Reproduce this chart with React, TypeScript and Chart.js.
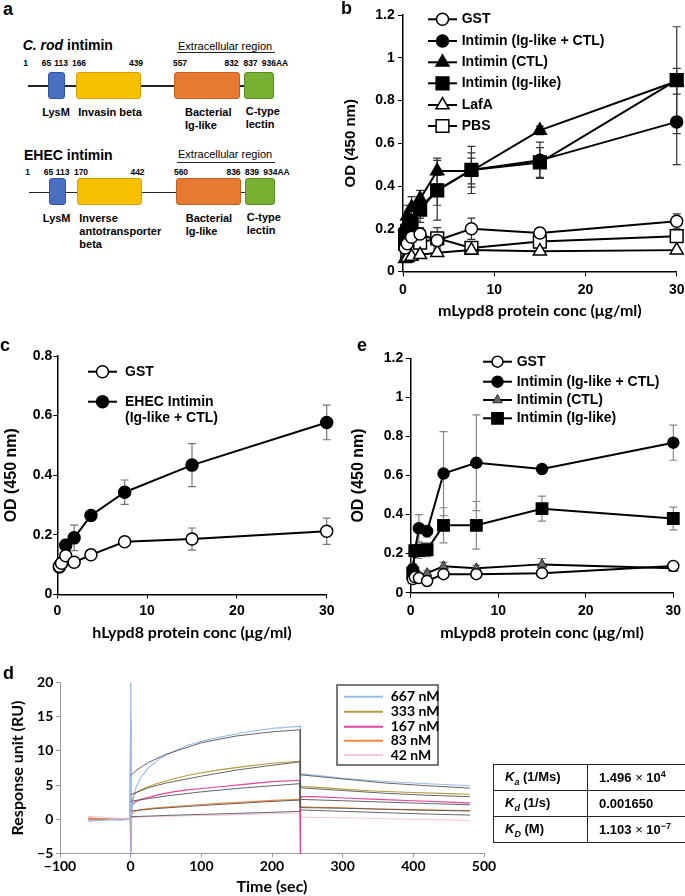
import React, { useEffect, useRef } from "react";
import { Chart, registerables } from "chart.js";
import { drawPoint } from "chart.js/helpers";

Chart.register(...registerables);

const ARIAL = "'Liberation Sans', Arial, Helvetica, sans-serif";
const CAL = "Lato, 'Open Sans', sans-serif";

// ---------------- Panel a data ----------------
const crodNumbers = ["1", "65", "113", "166", "439", "557", "832", "837", "936AA"];
const ehecNumbers = ["1", "65", "113", "170", "442", "560", "836", "839", "934AA"];
const crodNumX = [25.5, 46.5, 61, 79, 136, 180, 231.5, 250.5, 275];
const ehecNumX = [27.5, 48.5, 62.5, 81, 137.5, 181, 233.5, 252, 276.5];

// ---------------- Panel b data ----------------
const concentrations = [0.234, 0.469, 0.938, 1.875, 3.75, 7.5, 15, 30];
const bGST = [0.11, 0.13, 0.16, 0.175, 0.145, 0.2, 0.18, 0.235];
const bGSTErr = [0.02, 0.02, 0.03, 0.03, 0.03, 0.05, 0.02, 0.035];
const bIgCTL = [0.17, 0.2, 0.24, 0.3, 0.38, 0.475, 0.52, 0.7];
const bIgCTLErr = [0.03, 0.04, 0.05, 0.05, 0.07, 0.11, 0.085, 0.2];
const bCTL = [0.21, 0.26, 0.3, 0.34, 0.47, 0.47, 0.66, 0.89];
const bCTLErr = [0.03, 0.05, 0.05, 0.04, 0.06, 0.06, 0.02, 0.06];
const bIg = [0.16, 0.19, 0.22, 0.29, 0.38, 0.475, 0.51, 0.895];
const bIgErr = [0.03, 0.04, 0.04, 0.06, 0.14, 0.08, 0.07, 0.25];
const bLafA = [0.06, 0.065, 0.07, 0.078, 0.088, 0.1, 0.095, 0.1];
const bLafAErr = [0.01, 0.01, 0.01, 0.01, 0.01, 0.01, 0.01, 0.01];
const bPBS = [0.13, 0.075, 0.1, 0.135, 0.155, 0.11, 0.14, 0.165];
const bPBSErr = [0.02, 0.03, 0.02, 0.02, 0.05, 0.02, 0.02, 0.02];

// ---------------- Panel c data ----------------
const cGST = [0.095, 0.105, 0.13, 0.108, 0.133, 0.177, 0.186, 0.212];
const cGSTErr = [0.01, 0.01, 0.015, 0.01, 0.012, 0.01, 0.037, 0.044];
const cEHEC = [0.092, 0.105, 0.165, 0.19, 0.265, 0.343, 0.434, 0.577];
const cEHECErr = [0.01, 0.01, 0.02, 0.043, 0.015, 0.041, 0.072, 0.058];

// ---------------- Panel e data ----------------
const eGST = [0.07, 0.08, 0.075, 0.06, 0.095, 0.095, 0.1, 0.137];
const eGSTErr = [0.01, 0.01, 0.01, 0.01, 0.01, 0.01, 0.01, 0.01];
const eIgCTL = [0.12, 0.21, 0.33, 0.315, 0.61, 0.665, 0.633, 0.768];
const eIgCTLErr = [0.03, 0.03, 0.07, 0.03, 0.215, 0.245, 0.02, 0.09];
const eCTL = [0.06, 0.08, 0.09, 0.1, 0.135, 0.125, 0.145, 0.125];
const eCTLErr = [0.01, 0.01, 0.015, 0.015, 0.02, 0.015, 0.03, 0.015];
const eIg = [0.1, 0.215, 0.215, 0.22, 0.345, 0.345, 0.43, 0.38];
const eIgErr = [0.02, 0.03, 0.04, 0.035, 0.09, 0.122, 0.064, 0.058];

// ---------------- Panel d data ----------------
const sprLabels = ["667 nM", "333 nM", "167 nM", "83 nM", "42 nM"];
const dataTimes = [-60, -45, -30, -15, -1, 0, 0.4, 1.5, 4, 8, 15, 25, 40, 60, 80, 100, 130, 160, 200, 239, 240, 240.4, 242, 260, 300, 350, 400, 450, 480];
const r667 = [-0.3, -0.2, -0.1, -0.1, 0, 20, -5, 1.2, 3.3, 4.8, 6.2, 7.5, 8.8, 9.9, 10.8, 11.4, 12.1, 12.7, 13.3, 13.6, 13.7, 6.2, 6.6, 6.45, 6.0, 5.6, 5.3, 5.05, 4.9];
const r333 = [0.1, 0.05, 0, -0.05, 0, 0, -1.5, 2.6, 3.5, 3.9, 4.3, 4.8, 5.3, 5.9, 6.4, 6.8, 7.3, 7.7, 8.2, 8.5, 8.5, 5.0, 4.8, 4.7, 4.4, 4.1, 3.9, 3.75, 3.65];
const r167 = [-0.1, -0.1, 0, 0, 0, 14.5, -5, 1.8, 2.3, 2.6, 2.9, 3.2, 3.6, 4.0, 4.3, 4.5, 4.8, 5.1, 5.5, 5.7, -5, 3.0, 3.3, 3.3, 3.1, 2.9, 2.7, 2.5, 2.35];
const r83 = [0.2, 0.1, 0, -0.1, 0, -3, 0.5, 0.8, 1.0, 1.2, 1.4, 1.55, 1.7, 1.85, 2.0, 2.15, 2.35, 2.5, 2.75, 2.9, 2.9, 1.8, 1.8, 1.75, 1.65, 1.5, 1.4, 1.3, 1.25];
const r42 = [0.4, 0.35, 0.2, 0.1, 0, 0, 0.2, 0.2, 0.25, 0.3, 0.3, 0.35, 0.4, 0.45, 0.5, 0.55, 0.6, 0.7, 0.8, 0.9, 0.9, 0.3, 0.3, 0.25, 0.2, 0.1, 0.0, -0.1, -0.2];
const fitTimes = [0, 10, 25, 50, 100, 150, 200, 240, 240, 300, 360, 420, 480];
const f667 = [6.4, 7.3, 8.3, 9.5, 11.2, 12.2, 12.8, 13.1, 6.5, 5.9, 5.3, 4.9, 4.55];
const f333 = [3.6, 4.0, 4.6, 5.3, 6.3, 7.2, 7.9, 8.4, 4.6, 4.2, 3.8, 3.5, 3.3];
const f167 = [2.6, 2.8, 3.0, 3.4, 4.0, 4.5, 4.9, 5.2, 2.9, 2.7, 2.5, 2.3, 2.1];
const f83 = [1.2, 1.3, 1.45, 1.65, 2.0, 2.3, 2.6, 2.8, 1.7, 1.6, 1.45, 1.3, 1.2];
const f42 = [0.35, 0.4, 0.45, 0.55, 0.7, 0.85, 1.0, 1.15, 1.35, 1.15, 0.95, 0.75, 0.6];

// ---------------- Plugins ----------------
const errorBarPlugin = {
  id: "errorBars",
  beforeDatasetsDraw(chart: any) {
    const ctx = chart.ctx;
    const ys = chart.scales.y;
    chart.data.datasets.forEach((ds: any, di: number) => {
      if (!ds.errors) return;
      const meta = chart.getDatasetMeta(di);
      ctx.save();
      ctx.strokeStyle = ds.errorColor || "#555";
      ctx.lineWidth = 1.2;
      const cap = ds.errorCap || 4;
      ds.data.forEach((p: any, i: number) => {
        const e = ds.errors[i];
        if (!e) return;
        const px = meta.data[i].x;
        const t = ys.getPixelForValue(p.y + e);
        const b = ys.getPixelForValue(p.y - e);
        ctx.beginPath();
        ctx.moveTo(px, t); ctx.lineTo(px, b);
        ctx.moveTo(px - cap, t); ctx.lineTo(px + cap, t);
        ctx.moveTo(px - cap, b); ctx.lineTo(px + cap, b);
        ctx.stroke();
      });
      ctx.restore();
    });
  },
};

function makeLegend(cfg: any) {
  return {
    id: "panelLegend",
    afterDraw(chart: any) {
      const ctx = chart.ctx;
      ctx.save();
      if (cfg.box) {
        ctx.strokeStyle = cfg.box.color;
        ctx.lineWidth = cfg.box.width;
        ctx.strokeRect(cfg.box.x, cfg.box.y, cfg.box.w, cfg.box.h);
      }
      cfg.items.forEach((it: any) => {
        const ds: any = chart.data.datasets[it.ds];
        ctx.strokeStyle = ds.borderColor;
        ctx.lineWidth = cfg.lineWidth || ds.borderWidth;
        ctx.beginPath();
        ctx.moveTo(cfg.x0, it.y);
        ctx.lineTo(cfg.x1, it.y);
        ctx.stroke();
        if (cfg.marker) {
          ctx.fillStyle = ds.pointBackgroundColor;
          ctx.strokeStyle = ds.pointBorderColor;
          ctx.lineWidth = ds.pointBorderWidth;
          drawPoint(ctx, { pointStyle: ds.pointStyle, radius: ds.pointRadius, rotation: 0, borderWidth: ds.pointBorderWidth } as any, (cfg.x0 + cfg.x1) / 2, it.y);
        }
        ctx.fillStyle = "#000";
        ctx.font = cfg.font;
        ctx.textBaseline = "middle";
        ctx.textAlign = "left";
        it.lines.forEach((t: string, k: number) => ctx.fillText(t, cfg.textX, it.y + k * (cfg.lineGap || 16)));
      });
      ctx.restore();
    },
  };
}

// ---------------- Helpers ----------------
function series(xs: number[], ys: number[], errs: number[] | null, st: any) {
  return {
    data: xs.map((x, i) => ({ x, y: ys[i] })),
    errors: errs,
    errorColor: st.errorColor,
    errorCap: st.errorCap,
    borderColor: st.line || "#000",
    borderWidth: st.lineWidth ?? 2,
    pointStyle: st.shape || "circle",
    pointRadius: st.r ?? 0,
    pointHoverRadius: st.r ?? 0,
    pointBackgroundColor: st.fill || "#000",
    pointBorderColor: st.stroke || "#000",
    pointBorderWidth: st.pw ?? 1.5,
    order: st.order ?? 0,
    clip: false,
    tension: 0,
    fill: false,
  };
}

function axis(o: any) {
  return {
    type: "linear",
    min: o.min,
    max: o.max,
    ticks: {
      stepSize: o.step,
      color: "#000",
      font: { family: o.tickFamily || ARIAL, size: o.tickSize || 14, weight: "bold" },
      padding: o.tickPad,
      autoSkip: false,
      maxRotation: 0,
      callback: o.fmt,
    },
    grid: { display: true, drawOnChartArea: false, drawTicks: true, tickLength: o.tickLen, color: o.lineColor || "#000", lineWidth: 1 },
    border: { display: true, color: o.lineColor || "#000", width: o.lineWidth || 1.5 },
    title: {
      display: true,
      text: o.title,
      color: "#000",
      font: { family: o.titleFamily || ARIAL, size: o.titleSize, weight: "bold" },
      padding: 0,
    },
    afterFit: (s: any) => {
      if (o.width != null) s.width = o.width;
      if (o.height != null) s.height = o.height;
    },
  };
}

const fmt1 = (v: any) => String(Math.round(Number(v) * 10) / 10);
const fmtMinus = (v: any) => (Number(v) < 0 ? "\u2212" + Math.abs(Number(v)) : String(v));

function baseOptions(padding: any, scales: any) {
  return {
    responsive: false,
    animation: false,
    devicePixelRatio: 1,
    events: [],
    layout: { padding },
    plugins: { legend: { display: false }, tooltip: { enabled: false }, title: { display: false } },
    scales,
  };
}

// ---------------- Chart configs ----------------
function configB() {
  const ec = "#333";
  const datasets = [
    series(concentrations, bGST, bGSTErr, { shape: "circle", r: 6, fill: "#fff", errorColor: ec }),
    series(concentrations, bIgCTL, bIgCTLErr, { shape: "circle", r: 6, fill: "#000", errorColor: ec }),
    series(concentrations, bCTL, bCTLErr, { shape: "triangle", r: 7.5, fill: "#000", errorColor: ec }),
    series(concentrations, bIg, bIgErr, { shape: "rect", r: 9, fill: "#000", errorColor: ec }),
    series(concentrations, bLafA, bLafAErr, { shape: "triangle", r: 7.5, fill: "#fff", errorColor: ec }),
    series(concentrations, bPBS, bPBSErr, { shape: "rect", r: 9, fill: "#fff", errorColor: ec }),
  ];
  const names = ["GST", "Intimin (Ig-like + CTL)", "Intimin (CTL)", "Intimin (Ig-like)", "LafA", "PBS"];
  const ys = [19.3, 41, 62.3, 83.3, 105, 126];
  return {
    type: "line",
    data: { datasets },
    options: baseOptions({ left: 2, right: 18.3, top: 15, bottom: 0 }, {
      x: axis({ min: 0, max: 30, step: 10, tickPad: 5, tickLen: 5, title: "mLypd8 protein conc (\u03bcg/ml)", titleFamily: CAL, titleSize: 16, height: 48.5 }),
      y: axis({ min: 0, max: 1.2, step: 0.2, tickPad: 3.3, tickLen: 5, title: "OD (450 nm)", titleSize: 15, width: 61, fmt: fmt1 }),
    }),
    plugins: [errorBarPlugin, makeLegend({ x0: 88, x1: 117, textX: 121.7, marker: true, font: `bold 14px ${ARIAL}`, items: names.map((n, i) => ({ ds: i, lines: [n], y: ys[i] })) })],
  };
}

function configC() {
  const ec = "#777";
  const datasets = [
    series(concentrations, cGST, cGSTErr, { shape: "circle", r: 6, fill: "#fff", errorColor: ec }),
    series(concentrations, cEHEC, cEHECErr, { shape: "circle", r: 6, fill: "#000", errorColor: ec }),
  ];
  return {
    type: "line",
    data: { datasets },
    options: baseOptions({ left: 2, right: 18.3, top: 26, bottom: 0 }, {
      x: axis({ min: 0, max: 30, step: 10, tickPad: 4, tickLen: 4, title: "hLypd8 protein conc (\u03bcg/ml)", titleFamily: CAL, titleSize: 16, height: 47.5 }),
      y: axis({ min: 0, max: 0.8, step: 0.2, tickPad: 1, tickLen: 4, title: "OD (450 nm)", titleSize: 16, width: 55.3, fmt: fmt1 }),
    }),
    plugins: [errorBarPlugin, makeLegend({ x0: 88, x1: 117, textX: 125, marker: true, lineGap: 16.6, font: `bold 14px ${ARIAL}`, items: [
      { ds: 0, lines: ["GST"], y: 41.7 },
      { ds: 1, lines: ["EHEC Intimin", "(Ig-like + CTL)"], y: 71.7 },
    ] })],
  };
}

function configE() {
  const ec = "#888";
  const datasets = [
    series(concentrations, eGST, eGSTErr, { shape: "circle", r: 5.5, fill: "#fff", errorColor: ec }),
    series(concentrations, eIgCTL, eIgCTLErr, { shape: "circle", r: 5.5, fill: "#000", errorColor: ec }),
    series(concentrations, eCTL, eCTLErr, { shape: "triangle", r: 5.5, fill: "#666", stroke: "#222", pw: 1, errorColor: ec }),
    series(concentrations, eIg, eIgErr, { shape: "rect", r: 8, fill: "#000", errorColor: ec }),
  ];
  const names = ["GST", "Intimin (Ig-like + CTL)", "Intimin (CTL)", "Intimin (Ig-like)"];
  const ys = [31.7, 51.7, 70, 88.3];
  return {
    type: "line",
    data: { datasets },
    options: baseOptions({ left: 4, right: 21.7, top: 28.3, bottom: 0 }, {
      x: axis({ min: 0, max: 30, step: 10, tickPad: 5, tickLen: 5, title: "mLypd8 protein conc (\u03bcg/ml)", titleFamily: CAL, titleSize: 16, height: 49.3 }),
      y: axis({ min: 0, max: 1.2, step: 0.2, tickPad: 2.4, tickLen: 5, title: "OD (450 nm)", titleSize: 16, width: 61.7, fmt: fmt1 }),
    }),
    plugins: [errorBarPlugin, makeLegend({ x0: 138, x1: 167, textX: 171.7, marker: true, font: `bold 14px ${ARIAL}`, items: names.map((n, i) => ({ ds: i, lines: [n], y: ys[i] })) })],
  };
}

function configD() {
  const colors = ["#9dbde6", "#b89b3c", "#e0449c", "#f0883c", "#f6c6e6"];
  const raw = [r667, r333, r167, r83, r42];
  const fits = [f667, f333, f167, f83, f42];
  const datasets: any[] = [];
  raw.forEach((vals, i) => datasets.push(series(dataTimes, vals, null, { line: colors[i], lineWidth: 1.1, r: 0, order: 1 })));
  fits.forEach((vals) => datasets.push(series(fitTimes, vals, null, { line: "#555", lineWidth: 0.9, r: 0, order: 0 })));
  const ys = [36.7, 51.7, 66.7, 80.7, 95];
  return {
    type: "line",
    data: { datasets },
    options: baseOptions({ left: 8, right: 16, top: 22.7, bottom: 0 }, {
      x: axis({ min: -100, max: 500, step: 100, tickPad: 1, tickLen: 4, tickFamily: CAL, tickSize: 14, title: "Time (sec)", titleFamily: CAL, titleSize: 16, height: 42.7, lineColor: "#999", lineWidth: 1, fmt: fmtMinus }),
      y: axis({ min: -5, max: 20, step: 5, tickPad: 2.7, tickLen: 4, tickFamily: CAL, tickSize: 14, title: "Response unit (RU)", titleFamily: CAL, titleSize: 16, width: 52, lineColor: "#999", lineWidth: 1, fmt: fmtMinus }),
    }),
    plugins: [makeLegend({ x0: 344, x1: 383, textX: 390.7, marker: false, lineWidth: 2, font: `bold 14px ${CAL}`, box: { x: 337, y: 25, w: 101, h: 80, color: "#333", width: 1.3 }, items: sprLabels.map((n, i) => ({ ds: i, lines: [n], y: ys[i] })) })],
  };
}

// ---------------- Components ----------------
function ChartCanvas({ left, top, width, height, make }: any) {
  const ref = useRef<HTMLCanvasElement>(null);
  useEffect(() => {
    const chart = new Chart(ref.current as HTMLCanvasElement, make() as any);
    return () => chart.destroy();
  }, []);
  return <canvas ref={ref} width={width} height={height} style={{ position: "absolute", left, top, width, height }} />;
}

function T({ x, y, children, size = 11, bold = true, italic = false, align = "left", family = ARIAL }: any) {
  const tx = align === "center" ? "-50%" : align === "right" ? "-100%" : "0";
  return (
    <div style={{ position: "absolute", left: x, top: y, transform: `translate(${tx}, -50%)`, fontFamily: family, fontSize: size, fontWeight: bold ? "bold" : "normal", fontStyle: italic ? "italic" : "normal", whiteSpace: "nowrap", lineHeight: 1, color: "#000" }}>
      {children}
    </div>
  );
}

function Box({ x1, x2, y1, y2, fill, stroke }: any) {
  return <div style={{ position: "absolute", left: x1, top: y1, width: x2 - x1, height: y2 - y1, background: fill, border: `1px solid ${stroke}`, borderRadius: 3, boxSizing: "border-box" }} />;
}

function HLine({ x1, x2, y, w = 1.5, color = "#222" }: any) {
  return <div style={{ position: "absolute", left: x1, top: y - w / 2, width: x2 - x1, height: w, background: color }} />;
}

const BLUE = ["#4a70c4", "#2f55a0"];
const YEL = ["#f7c000", "#d4a200"];
const ORA = ["#e57a30", "#c85f1c"];
const GRN = ["#78b032", "#5a8c22"];

function PanelA() {
  return (
    <>
      <T x={3} y={9} size={18}>a</T>
      {/* C. rod */}
      <T x={22.7} y={45} size={14}><i>C. rod</i> intimin</T>
      <T x={178} y={45.7} size={11} bold={false}>Extracellular region</T>
      <HLine x1={177} x2={275} y={52.7} />
      {crodNumbers.map((n, i) => <T key={i} x={crodNumX[i]} y={63} size={8.5} align="center">{n}</T>)}
      <HLine x1={28.3} x2={245} y={86} w={1.3} />
      <Box x1={48.3} x2={65} y1={71.7} y2={99.3} fill={BLUE[0]} stroke={BLUE[1]} />
      <Box x1={76} x2={141} y1={71.7} y2={99.3} fill={YEL[0]} stroke={YEL[1]} />
      <Box x1={174.3} x2={240} y1={71.7} y2={99.3} fill={ORA[0]} stroke={ORA[1]} />
      <Box x1={244.3} x2={274.3} y1={71.7} y2={99.3} fill={GRN[0]} stroke={GRN[1]} />
      <T x={56} y={111.7} align="center">LysM</T>
      <T x={78.3} y={111.7}>Invasin beta</T>
      <T x={185} y={111.7}>Bacterial</T>
      <T x={185} y={125}>Ig-like</T>
      <T x={245.7} y={111}>C-type</T>
      <T x={245.7} y={124.3}>lectin</T>
      {/* EHEC */}
      <T x={24} y={155} size={14}>EHEC intimin</T>
      <T x={178} y={154} size={11} bold={false}>Extracellular region</T>
      <HLine x1={177} x2={275} y={162.3} />
      {ehecNumbers.map((n, i) => <T key={i} x={ehecNumX[i]} y={172} size={8.5} align="center">{n}</T>)}
      <HLine x1={29.3} x2={245} y={192.3} w={1.3} />
      <Box x1={49} x2={65.7} y1={178.3} y2={205} fill={BLUE[0]} stroke={BLUE[1]} />
      <Box x1={76.7} x2={141.7} y1={178.3} y2={205} fill={YEL[0]} stroke={YEL[1]} />
      <Box x1={175.7} x2={240.7} y1={178.3} y2={205} fill={ORA[0]} stroke={ORA[1]} />
      <Box x1={245} x2={275} y1={178.3} y2={205} fill={GRN[0]} stroke={GRN[1]} />
      <T x={56.7} y={218.3} align="center">LysM</T>
      <T x={79.3} y={218.3}>Inverse</T>
      <T x={79.3} y={231}>antotransporter</T>
      <T x={79.3} y={244}>beta</T>
      <T x={185.7} y={218.3}>Bacterial</T>
      <T x={185.7} y={231}>Ig-like</T>
      <T x={246.7} y={217}>C-type</T>
      <T x={246.7} y={230}>lectin</T>
    </>
  );
}

function KTable() {
  const cell: any = { border: "1.5px solid #222", height: 25, padding: 0, paddingLeft: 11, fontFamily: ARIAL, fontWeight: "bold", fontSize: 13, textAlign: "left", verticalAlign: "middle", whiteSpace: "nowrap" };
  return (
    <table style={{ position: "absolute", left: 493, top: 764, borderCollapse: "collapse", width: 205, tableLayout: "fixed" }}>
      <colgroup><col style={{ width: 94 }} /><col style={{ width: 111 }} /></colgroup>
      <tbody>
        <tr><td style={cell}><i>K</i><sub style={{ fontSize: 9 }}><i>a</i></sub> (1/Ms)</td><td style={cell}>1.496 <span style={{ fontWeight: "normal" }}>×</span> 10<sup style={{ fontSize: 9 }}>4</sup></td></tr>
        <tr><td style={cell}><i>K</i><sub style={{ fontSize: 9 }}><i>d</i></sub> (1/s)</td><td style={cell}>0.001650</td></tr>
        <tr><td style={cell}><i>K</i><sub style={{ fontSize: 9 }}><i>D</i></sub> (M)</td><td style={cell}>1.103 <span style={{ fontWeight: "normal" }}>×</span> 10<sup style={{ fontSize: 9 }}>−7</sup></td></tr>
      </tbody>
    </table>
  );
}

export default function App() {
  return (
    <div style={{ position: "absolute", left: 0, top: 0, width: 685, height: 896, overflow: "hidden", background: "#fff" }}>
      <PanelA />
      <ChartCanvas left={340} top={0} width={355} height={320} make={configB} />
      <ChartCanvas left={0} top={330} width={345} height={312} make={configC} />
      <ChartCanvas left={345} top={330} width={350} height={312} make={configE} />
      <ChartCanvas left={0} top={660} width={500} height={236} make={configD} />
      <KTable />
      <T x={341} y={8} size={18}>b</T>
      <T x={0} y={345} size={18}>c</T>
      <T x={357} y={345} size={18}>e</T>
      <T x={3} y={673} size={18}>d</T>
    </div>
  );
}
